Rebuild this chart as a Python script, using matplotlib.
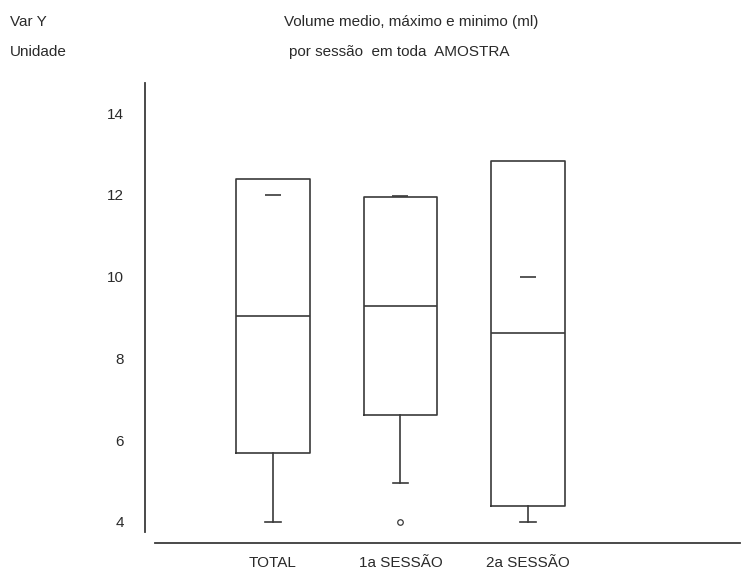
import matplotlib
matplotlib.use("Agg")
import matplotlib.pyplot as plt

plt.rcParams.update({
    "font.family": "Liberation Sans",
    "font.size": 11,
})

# data
GROUPS = ["TOTAL", "1a SESSÃO", "2a SESSÃO"]
Q1 = [5.68, 6.62, 4.38]
MEDIAN = [9.04, 9.29, 8.63]
Q3 = [12.39, 11.95, 12.83]
WHISK_LO = [4.0, 4.96, 4.0]
WHISK_HI = [12.39, 11.95, 12.83]
MEAN_MARK = [12.0, 11.97, 10.0]
FLIERS = [[], [4.0], []]
YTICKS = [4, 6, 8, 10, 12, 14]

LINE = "#3a3a3a"
TXT = "#2a2a2a"

fig = plt.figure(figsize=(7.48, 5.71), dpi=100)
W, H = 748, 571
# axes spans the y axis line (x=145) to the right end of the x line
ax = fig.add_axes([145 / W, 1 - 532 / H, (740 - 145) / W, (532 - 83) / H])

stats = []
for lab, q1, med, q3, lo, hi, mn, fl in zip(GROUPS, Q1, MEDIAN, Q3, WHISK_LO,
                                            WHISK_HI, MEAN_MARK, FLIERS):
    stats.append(dict(label=lab, q1=q1, med=med, q3=q3, whislo=lo,
                      whishi=hi, mean=mn, fliers=fl))

pos = [1, 2, 3]
parts = ax.bxp(stats, positions=pos, widths=0.58, capwidths=0.12,
               showmeans=True, showfliers=True,
               boxprops=dict(color=LINE, linewidth=1.2),
               medianprops=dict(color=LINE, linewidth=1.2),
               whiskerprops=dict(color=LINE, linewidth=1.2),
               capprops=dict(color=LINE, linewidth=1.2),
               meanprops=dict(marker="_", markersize=11, markeredgecolor=LINE,
                              markeredgewidth=1.2),
               flierprops=dict(marker="o", markersize=4,
                               markerfacecolor="white",
                               markeredgecolor=LINE, markeredgewidth=0.9))

# upper whisker ends at the box top: no cap drawn there
for i, (q3, hi) in enumerate(zip(Q3, WHISK_HI)):
    if hi <= q3:
        parts["caps"][2 * i + 1].set_visible(False)

ax.set_xlim(-0.004, 4.663)
ax.set_ylim(3.755, 14.74)
ax.set_yticks(YTICKS)
ax.set_yticklabels([str(t) for t in YTICKS])
ax.set_xticks(pos)
ax.set_xticklabels(GROUPS)

for s in ["top", "right"]:
    ax.spines[s].set_visible(False)
ax.spines["left"].set_color(LINE)
ax.spines["left"].set_linewidth(1.3)
ax.spines["bottom"].set_color(LINE)
ax.spines["bottom"].set_linewidth(1.3)
ax.spines["bottom"].set_position(("outward", 8))
ax.spines["bottom"].set_bounds(0.075, 4.663)

ax.tick_params(axis="y", length=0, pad=15, labelsize=11, colors=TXT)
ax.tick_params(axis="x", length=0, pad=9, labelsize=11, colors=TXT)

fig.text(10 / W, 1 - 22 / H, "Var Y", ha="left", va="center", color=TXT)
fig.text(10 / W, 1 - 52 / H, "Unidade", ha="left", va="center", color=TXT)
fig.text(411 / W, 1 - 22 / H, "Volume medio, máximo e minimo (ml)",
         ha="center", va="center", color=TXT)
fig.text(399 / W, 1 - 52 / H, "por sessão  em toda  AMOSTRA",
         ha="center", va="center", color=TXT)

fig.savefig("out.png", dpi=100)
